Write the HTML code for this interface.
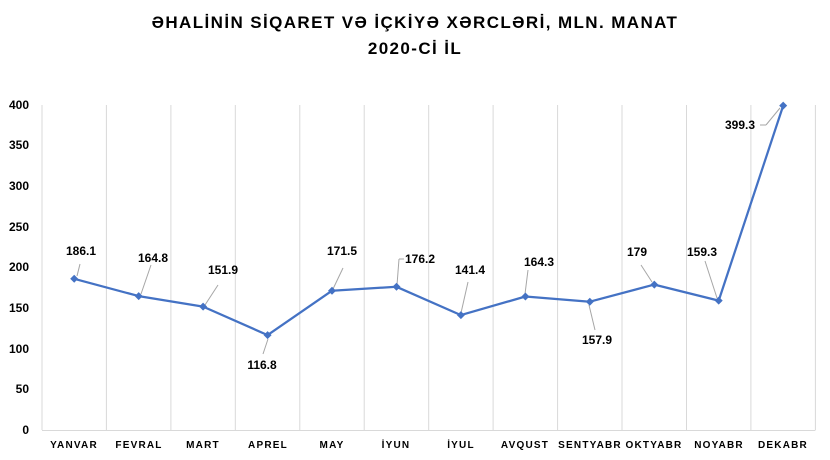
<!DOCTYPE html>
<html><head><meta charset="utf-8"><style>
body{margin:0;background:#fff;}
svg{display:block;font-family:"Liberation Sans",sans-serif;}
</style></head><body>
<svg width="830" height="460" viewBox="0 0 830 460">
<rect width="830" height="460" fill="#fff"/>
<g font-weight="bold" font-size="17" fill="#000" text-anchor="middle" letter-spacing="1.4">
<text x="415" y="28">ƏHALİNİN SİQARET VƏ İÇKİYƏ XƏRCLƏRİ, MLN. MANAT</text>
<text x="415" y="54">2020-Cİ İL</text>
</g>
<g stroke="#d9d9d9" stroke-width="1">
<line x1="42" y1="105" x2="42" y2="430"/><line x1="106.4" y1="105" x2="106.4" y2="430"/>
<line x1="170.9" y1="105" x2="170.9" y2="430"/><line x1="235.3" y1="105" x2="235.3" y2="430"/>
<line x1="299.8" y1="105" x2="299.8" y2="430"/><line x1="364.2" y1="105" x2="364.2" y2="430"/>
<line x1="428.7" y1="105" x2="428.7" y2="430"/><line x1="493.1" y1="105" x2="493.1" y2="430"/>
<line x1="557.6" y1="105" x2="557.6" y2="430"/><line x1="622" y1="105" x2="622" y2="430"/>
<line x1="686.5" y1="105" x2="686.5" y2="430"/><line x1="750.9" y1="105" x2="750.9" y2="430"/>
<line x1="815.4" y1="105" x2="815.4" y2="430"/>
<line x1="42" y1="430.5" x2="815.4" y2="430.5"/>
</g>
<g font-size="12" font-weight="bold" fill="#000" text-anchor="end">
<text x="29" y="434">0</text><text x="29" y="393">50</text><text x="29" y="353">100</text>
<text x="29" y="312">150</text><text x="29" y="271">200</text><text x="29" y="231">250</text>
<text x="29" y="190">300</text><text x="29" y="149">350</text><text x="29" y="109">400</text>
</g>
<g font-size="10" font-weight="bold" fill="#000" text-anchor="middle" letter-spacing="1.2">
<text x="74" y="448">YANVAR</text><text x="139" y="448">FEVRAL</text><text x="203" y="448">MART</text>
<text x="268" y="448">APREL</text><text x="332" y="448">MAY</text><text x="396" y="448">İYUN</text>
<text x="461" y="448">İYUL</text><text x="525" y="448">AVQUST</text><text x="590" y="448">SENTYABR</text>
<text x="654" y="448">OKTYABR</text><text x="719" y="448">NOYABR</text><text x="783" y="448">DEKABR</text>
</g>
<g stroke="#a6a6a6" stroke-width="1" fill="none">
<line x1="77" y1="276" x2="80" y2="264"/>
<line x1="141" y1="294" x2="151" y2="265"/>
<line x1="205" y1="305" x2="218" y2="285"/>
<line x1="268" y1="339" x2="263" y2="354"/>
<line x1="333" y1="289" x2="343" y2="268"/>
<line x1="397" y1="285" x2="399" y2="259"/><line x1="399" y1="259" x2="404" y2="259"/>
<line x1="461" y1="313" x2="468" y2="282"/>
<line x1="525" y1="294" x2="528" y2="270"/>
<line x1="589" y1="305" x2="595" y2="330"/>
<line x1="652" y1="282" x2="641" y2="265"/>
<line x1="717" y1="298" x2="705" y2="261"/>
<line x1="780" y1="108" x2="766" y2="125"/><line x1="766" y1="125" x2="760" y2="125"/>
</g>
<polyline fill="none" stroke="#4472c4" stroke-width="2.25" stroke-linejoin="round"
points="74.2,278.8 138.7,296.1 203.1,306.6 267.6,335.1 332,290.7 396.5,286.8 460.9,315.1 525.4,296.5 589.8,301.7 654.3,284.6 718.7,300.6 783.2,105.6"/>
<g fill="#4472c4">
<path d="M74.2,274.8l4,4-4,4-4-4z"/><path d="M138.7,292.1l4,4-4,4-4-4z"/>
<path d="M203.1,302.6l4,4-4,4-4-4z"/><path d="M267.6,331.1l4,4-4,4-4-4z"/>
<path d="M332,286.7l4,4-4,4-4-4z"/><path d="M396.5,282.8l4,4-4,4-4-4z"/>
<path d="M460.9,311.1l4,4-4,4-4-4z"/><path d="M525.4,292.5l4,4-4,4-4-4z"/>
<path d="M589.8,297.7l4,4-4,4-4-4z"/><path d="M654.3,280.6l4,4-4,4-4-4z"/>
<path d="M718.7,296.6l4,4-4,4-4-4z"/><path d="M783.2,101.6l4,4-4,4-4-4z"/>
</g>
<g font-size="12" font-weight="bold" fill="#000" text-anchor="middle">
<text x="81" y="255">186.1</text><text x="153" y="262">164.8</text><text x="223" y="274">151.9</text>
<text x="262" y="369">116.8</text><text x="342" y="255">171.5</text><text x="420" y="263">176.2</text>
<text x="470" y="274">141.4</text><text x="539" y="266">164.3</text><text x="597" y="344">157.9</text>
<text x="637" y="256">179</text><text x="702" y="256">159.3</text><text x="740" y="129">399.3</text>
</g>
</svg>
</body></html>
